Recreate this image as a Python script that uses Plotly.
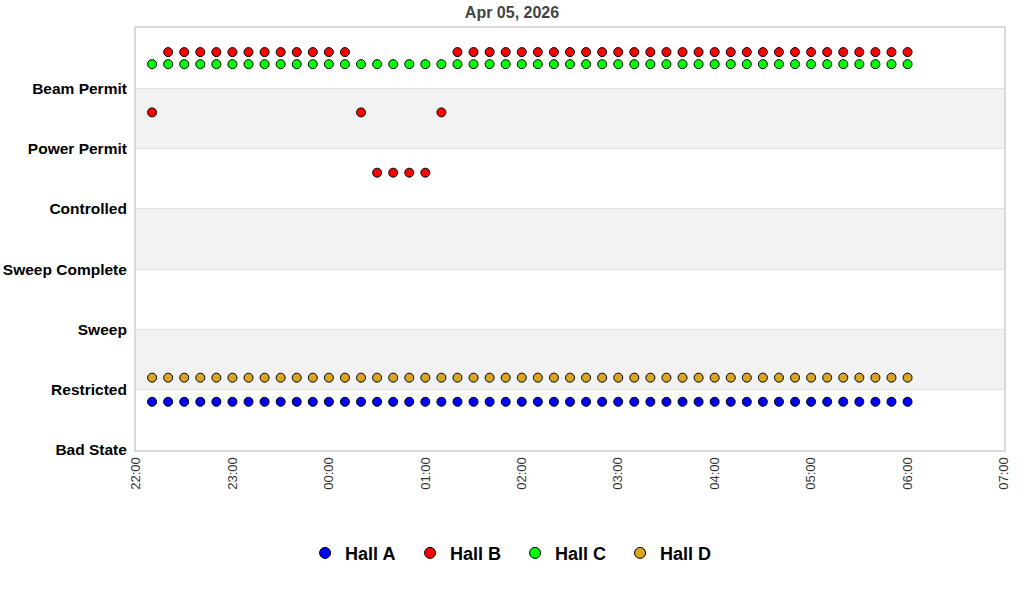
import pandas as pd
import plotly.graph_objects as go

# Category axis, bottom to top
states = [
    "Bad State",
    "Restricted",
    "Sweep",
    "Sweep Complete",
    "Controlled",
    "Power Permit",
    "Beam Permit",
]

# 10 minute samples, 22:10 -> 06:00
times = pd.date_range("2026-04-05 22:10", "2026-04-06 06:00", freq="10min")

hall_a = ["Bad State"] * 48
hall_b = (
    ["Power Permit"]
    + ["Beam Permit"] * 12
    + ["Power Permit"]
    + ["Controlled"] * 4
    + ["Power Permit"]
    + ["Beam Permit"] * 29
)
hall_c = ["Beam Permit"] * 48
hall_d = ["Restricted"] * 48

halls = ["Hall A", "Hall B", "Hall C", "Hall D"]
hall_states = [hall_a, hall_b, hall_c, hall_d]
hall_offsets = [0.8, 0.6, 0.4, 0.2]
hall_colors = ["#0000ff", "#ff0000", "#00ff00", "#daa520"]


fig = go.Figure()

# alternating bands
for i in range(len(states)):
    if i % 2 == 1:
        fig.add_shape(
            type="rect",
            xref="paper",
            yref="y",
            x0=0,
            x1=1,
            y0=i,
            y1=i + 1,
            fillcolor="#f2f2f2",
            line_width=0,
            layer="below",
        )

for name, values, offset, color in zip(halls, hall_states, hall_offsets, hall_colors):
    fig.add_trace(
        go.Scatter(
            x=times,
            y=[states.index(v) + offset for v in values],
            mode="markers",
            name=name,
            showlegend=False,
            marker=dict(
                color=color, size=9, symbol="circle", line=dict(color="black", width=1)
            ),
        )
    )
    # legend entry
    fig.add_trace(
        go.Scatter(
            x=[None],
            y=[None],
            mode="markers",
            name=name,
            marker=dict(
                color=color, size=11, symbol="circle", line=dict(color="black", width=1)
            ),
        )
    )

fig.update_layout(
    width=1024,
    height=600,
    paper_bgcolor="white",
    plot_bgcolor="white",
    margin=dict(l=136, r=20, t=28, b=150),
    title=dict(
        text="<b>Apr 05, 2026</b>",
        x=0.5,
        xref="container",
        y=0.98,
        yanchor="middle",
        font=dict(family="Liberation Sans, Arial", size=16, color="#444444"),
    ),
    font=dict(family="Liberation Sans, Arial"),
    legend=dict(
        orientation="h",
        x=0.503,
        xref="container",
        xanchor="center",
        y=0.078,
        yref="container",
        yanchor="middle",
        font=dict(size=18, color="black", weight="bold"),
        itemwidth=30,
        entrywidth=60,
        entrywidthmode="pixels",
    ),
)

fig.update_xaxes(
    type="date",
    range=["2026-04-05 22:00", "2026-04-06 07:00"],
    dtick=3600000,
    tick0="2026-04-05 22:00",
    tickformat="%H:%M",
    tickangle=-90,
    tickfont=dict(size=13, color="#333333"),
    showgrid=False,
    showline=True,
    linecolor="#d9d9d9",
    linewidth=2,
    mirror=True,
    zeroline=False,
    ticks="",
)
fig.update_yaxes(
    range=[0, 7],
    tickvals=list(range(len(states))),
    ticktext=["<b>%s</b>" % s for s in states],
    tickfont=dict(size=15.5, color="black"),
    showgrid=True,
    gridcolor="#e0e0e0",
    gridwidth=1,
    showline=True,
    linecolor="#d9d9d9",
    linewidth=2,
    mirror=True,
    zeroline=False,
    ticks="",
    ticklabelstandoff=4,
    automargin=False,
)

# drop the browser's default page margin so the chart sits at the top-left corner
fig.write_html(
    "out.html",
    config={"displayModeBar": False},
    post_script="document.body.style.margin = '0';",
)
